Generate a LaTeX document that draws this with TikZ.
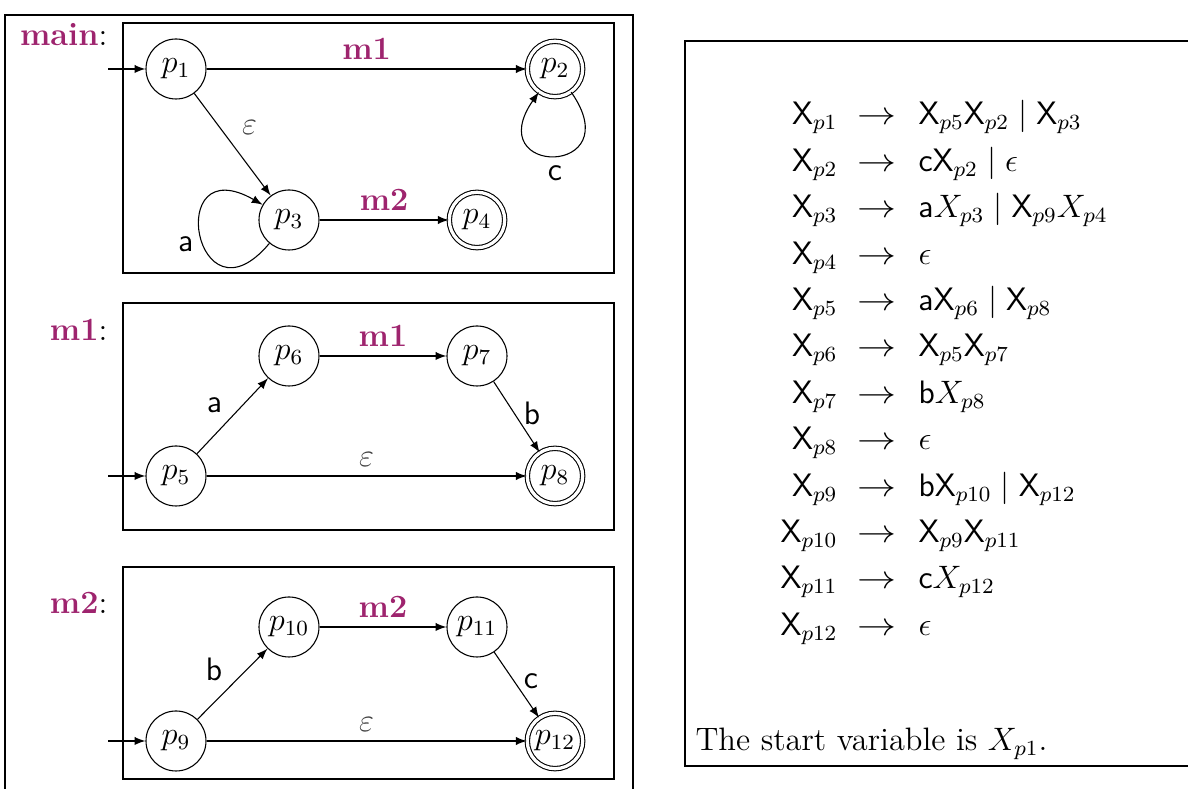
\documentclass[tikz,border=0pt]{standalone}
\usepackage{amsmath}
\definecolor{mpurple}{RGB}{158,36,110}
\newcommand{\VX}[1]{\mathsf{X}_{#1}}
\newcommand{\prodarrow}{\scalebox{1.2}[1]{$\rightarrow$}}
\tikzset{
  st/.style={circle, draw, minimum size=0.78cm, inner sep=0pt, font=\large},
  acc/.style={st, double, double distance=1.2pt, minimum size=0.72cm},
  boxline/.style={line width=0.9pt},
  mlbl/.style={font=\large\bfseries, text=mpurple},
  sym/.style={font=\large},
  eps/.style={font=\large, text=black!75}
}
\begin{document}
\begin{tikzpicture}[x=0.013cm, y=0.013cm, >=latex]
                \useasboundingbox (0,0) rectangle (1188,789);
                % Frames
                \draw[boxline] (5,-5) -- (5,774) -- (633,774) -- (633,-5);
                \draw[boxline] (1195,748) -- (685,748) -- (685,23) -- (1195,23);
                \draw[boxline] (123,516) rectangle (614,766);
                \draw[boxline] (123,259) rectangle (614,486);
                \draw[boxline] (123,10) rectangle (614,222);
                % Procedure names
                \node[sym, anchor=base east] (nmain) at (117,743) {{\color{mpurple}\textbf{main}}:};
                \node[sym, anchor=base east] (nm1) at (117,448) {{\color{mpurple}\textbf{m1}}:};
                \node[sym, anchor=base east] (nm2) at (117,175) {{\color{mpurple}\textbf{m2}}:};
                % main
                \node[st] (p1) at (176,720) {$p_1$};
                \node[acc] (p2) at (555,720) {$p_2$};
                \node[st] (p3) at (289,569) {$p_3$};
                \node[acc] (p4) at (477,569) {$p_4$};
                \coordinate (s1) at (108,720);
                \draw[->] (s1) -- (p1);
                \draw[->] (p1) -- node[mlbl, above] {m1} (p2);
                \draw[->] (p1) -- node[eps, above right] {$\varepsilon$} (p3);
                \draw[->] (p3) -- node[mlbl, above] {m2} (p4);
                \draw[->] (p2) to[out=-55, in=-125, distance=1.35cm] node[sym, below] {\textsf{c}} (p2);
                \draw[->] (p3) to[out=-130, in=150, distance=1.5cm] node[sym, left, pos=0.45] {\textsf{a}} (p3);
                % m1
                \node[st] (p5) at (176,313) {$p_5$};
                \node[st] (p6) at (289,433) {$p_6$};
                \node[st] (p7) at (477,433) {$p_7$};
                \node[acc] (p8) at (555,313) {$p_8$};
                \coordinate (s5) at (108,313);
                \draw[->] (s5) -- (p5);
                \draw[->] (p5) -- node[sym, above left=-1pt, pos=0.45] {\textsf{a}} (p6);
                \draw[->] (p6) -- node[mlbl, above] {m1} (p7);
                \draw[->] (p7) -- node[sym, right, pos=0.45] {\textsf{b}} (p8);
                \draw[->] (p5) -- node[eps, above] {$\varepsilon$} (p8);
                % m2
                \node[st] (p9) at (176,48) {$p_9$};
                \node[st] (p10) at (289,162) {$p_{10}$};
                \node[st] (p11) at (477,162) {$p_{11}$};
                \node[acc] (p12) at (555,48) {$p_{12}$};
                \coordinate (s9) at (108,48);
                \draw[->] (s9) -- (p9);
                \draw[->] (p9) -- node[sym, above left=-1pt, pos=0.45] {\textsf{b}} (p10);
                \draw[->] (p10) -- node[mlbl, above] {m2} (p11);
                \draw[->] (p11) -- node[sym, right, pos=0.45] {\textsf{c}} (p12);
                \draw[->] (p9) -- node[eps, above] {$\varepsilon$} (p12);
                % Grammar
                \foreach \i/\lhs/\rhs in {
                    1/{\VX{p1}}/{\VX{p5}\VX{p2} \mid \VX{p3}},
                    2/{\VX{p2}}/{\mathsf{c}\VX{p2} \mid \epsilon},
                    3/{\VX{p3}}/{\mathsf{a}X_{p3} \mid \VX{p9}X_{p4}},
                    4/{\VX{p4}}/{\epsilon},
                    5/{\VX{p5}}/{\mathsf{a}\VX{p6} \mid \VX{p8}},
                    6/{\VX{p6}}/{\VX{p5}\VX{p7}},
                    7/{\VX{p7}}/{\mathsf{b}X_{p8}},
                    8/{\VX{p8}}/{\epsilon},
                    9/{\VX{p9}}/{\mathsf{b}\VX{p10} \mid \VX{p12}},
                    10/{\VX{p10}}/{\VX{p9}\VX{p11}},
                    11/{\VX{p11}}/{\mathsf{c}X_{p12}},
                    12/{\VX{p12}}/{\epsilon}}{
                    \node[sym, inner sep=0pt, anchor=base east] (l\i) at (838,{664-46.4*(\i-1)}) {$\lhs$};
                    \node[sym, inner sep=0pt, anchor=base] (a\i) at (877,{664-46.4*(\i-1)}) {\prodarrow};
                    \node[sym, inner sep=0pt, anchor=base west] (r\i) at (918,{664-46.4*(\i-1)}) {$\rhs$};
                }
                \node[sym, inner sep=0pt, anchor=base west] (start) at (695,38) {The start variable is $X_{p1}$.};
\end{tikzpicture}
\end{document}
